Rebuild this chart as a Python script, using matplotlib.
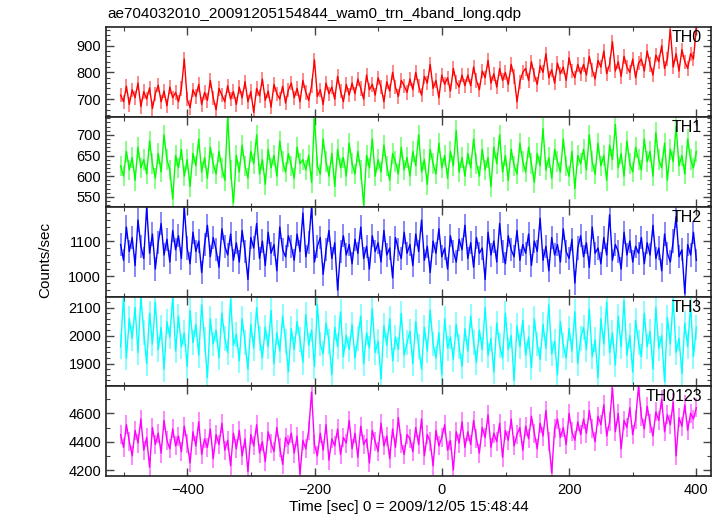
import numpy as np
import matplotlib.pyplot as plt
from matplotlib.ticker import MultipleLocator
from matplotlib.colors import to_rgb

plt.rcParams['font.family'] = ['Liberation Sans', 'DejaVu Sans']

# Light curve values (counts/sec), one list per band
t_start = -505
t_stop = 400

th0 = [715, 690, 748, 680, 735, 705, 760, 672, 728, 700, 742, 665, 720, 752, 690, 730, 675, 745, 705, 725,
       690, 740, 850, 700, 668, 735, 710, 755, 680, 725, 695, 770, 705, 660, 740, 715, 690, 750, 700, 728,
       680, 745, 705, 765, 690, 728, 650, 740, 712, 775, 695, 730, 670, 755, 720, 700, 748, 685, 735, 760,
       705, 740, 690, 770, 725, 695, 750, 847, 710, 735, 680, 760, 720, 745, 700, 785, 730, 690, 755, 715,
       760, 720, 775, 740, 700, 790, 735, 755, 715, 780, 745, 690, 765, 730, 800, 745, 710, 770, 750, 725,
       775, 735, 800, 750, 715, 785, 760, 830, 740, 770, 705, 790, 755, 780, 730, 815, 765, 745, 790, 750,
       790, 750, 820, 770, 735, 805, 780, 845, 760, 795, 745, 815, 770, 800, 755, 830, 785, 690, 765, 800,
       815, 770, 840, 790, 755, 825, 800, 870, 780, 810, 760, 835, 795, 820, 770, 855, 805, 780, 830, 795,
       830, 790, 860, 810, 775, 845, 820, 880, 795, 830, 915, 805, 840, 785, 860, 820, 800, 850, 780, 835,
       850, 805, 880, 830, 790, 865, 840, 900, 815, 850, 960, 820, 870, 805, 885, 840, 815, 870, 850, 969]

th1 = [625, 600, 660, 615, 645, 590, 670, 620, 640, 605, 685, 630, 595, 655, 610, 700, 640, 615, 545, 650,
       620, 665, 600, 640, 575, 655, 625, 690, 610, 645, 595, 670, 630, 605, 660, 620, 590, 744, 615, 535,
       650, 610, 675, 625, 595, 660, 630, 700, 605, 640, 580, 665, 620, 650, 600, 685, 635, 610, 655, 625,
       595, 670, 630, 640, 615, 650, 585, 744, 625, 605, 690, 635, 600, 655, 575, 665, 620, 645, 600, 680,
       630, 605, 660, 615, 530, 650, 620, 690, 600, 640, 610, 675, 625, 590, 655, 635, 605, 670, 615, 645,
       600, 660, 625, 700, 610, 640, 580, 665, 630, 605, 680, 620, 650, 595, 660, 625, 710, 610, 645, 600,
       655, 620, 690, 630, 600, 665, 615, 645, 575, 670, 630, 700, 610, 650, 590, 665, 625, 605, 680, 635,
       610, 670, 630, 585, 655, 625, 715, 615, 645, 595, 665, 635, 610, 690, 625, 600, 660, 570, 650, 630,
       665, 615, 700, 635, 605, 680, 625, 650, 590, 675, 640, 725, 620, 655, 600, 685, 630, 610, 670, 640,
       615, 690, 635, 660, 600, 705, 640, 620, 680, 590, 665, 635, 720, 625, 650, 605, 690, 640, 620, 660]

th2 = [1090, 1045, 1140, 1070, 1110, 1030, 1160, 1085, 1050, 1198, 1065, 1120, 1020, 1095, 1150, 1060, 1105, 1040, 1130, 1075,
       1115, 1050, 1198, 1080, 1035, 1125, 1070, 1100, 1010, 1090, 1145, 1055, 1110, 1075, 1025, 1135, 1085, 1060, 1120, 1045,
       1095, 1040, 1130, 1070, 990, 1110, 1080, 1150, 1050, 1100, 1030, 1125, 1065, 1090, 1015, 1140, 1075, 1055, 1115, 1085,
       1045, 1120, 1070, 1180, 1055, 1095, 1198, 1040, 1085, 1110, 1005, 1075, 1130, 1050, 1095, 960, 1070, 1115, 1060, 1090,
       1035, 1105, 1065, 1140, 1050, 1085, 1020, 1115, 1070, 1095, 1040, 1130, 1060, 1080, 995, 1110, 1075, 1050, 1125, 1065,
       1090, 1030, 1120, 1070, 1160, 1045, 1085, 1010, 1100, 1065, 1135, 1055, 1080, 1020, 1115, 1070, 1040, 1105, 1075, 1145,
       1050, 1095, 1025, 1110, 1065, 1080, 990, 1125, 1060, 1100, 1040, 1150, 1070, 1035, 1115, 1075, 1055, 1130, 1045, 1090,
       1065, 1120, 1030, 1100, 1070, 1165, 1045, 1085, 1015, 1110, 1060, 1090, 1040, 1135, 1070, 1050, 1105, 980, 1080, 1115,
       1055, 1095, 1025, 1140, 1065, 1080, 1035, 1110, 1060, 1175, 1045, 1090, 1070, 1020, 1125, 1060, 1100, 1040, 1085, 1065,
       1110, 1035, 1095, 1060, 1145, 1050, 1080, 1015, 1120, 1065, 1040, 1100, 1170, 1055, 1075, 950, 1090, 1060, 1125, 1045]

th3 = [1960, 2139, 1920, 2060, 1990, 2100, 1940, 2139, 2010, 1900, 2080, 1970, 2120, 1950, 2030, 1880, 2050, 1995, 2139, 1945,
       2070, 1960, 2010, 1890, 2090, 1975, 2040, 1930, 2110, 1985, 1850, 2060, 1970, 2020, 1920, 2080, 1990, 1940, 2130, 1965,
       2005, 1910, 2060, 1975, 1880, 2040, 1955, 2100, 1990, 1920, 2030, 1960, 2090, 1900, 2010, 1945, 2070, 1980, 1870, 2025,
       1950, 2050, 1985, 1905, 2075, 1965, 2020, 1890, 2110, 1970, 1935, 2045, 1980, 1860, 2030, 1960, 2085, 1925, 2000, 1950,
       2040, 1920, 1990, 2070, 1900, 2010, 1955, 2095, 1940, 1980, 1845, 2035, 1965, 2060, 1910, 1995, 1950, 2080, 1930, 1975,
       2015, 1900, 2050, 1960, 1880, 2030, 1945, 2090, 1970, 1920, 2010, 1860, 2060, 1955, 1995, 1915, 2040, 1960, 1890, 2025,
       1945, 2070, 1975, 1905, 2020, 1950, 2100, 1930, 1990, 1870, 2045, 1965, 1920, 2080, 1950, 2000, 1840, 2035, 1960, 2055,
       1930, 1995, 1885, 2060, 1970, 1915, 2040, 1955, 2110, 1935, 1980, 1860, 2050, 1965, 1920, 2025, 1945, 2085, 1900, 1990,
       2030, 1950, 2095, 1925, 1985, 1850, 2060, 1970, 2120, 1940, 2010, 1895, 2070, 1960, 2125, 1930, 2000, 1870, 2055, 1975,
       1925, 2080, 1960, 2015, 1880, 2100, 1955, 2000, 1835, 2065, 1970, 2130, 1940, 1990, 1865, 2045, 1960, 2110, 1925, 2030]

th0123 = [4450, 4360, 4520, 4400, 4300, 4480, 4390, 4560, 4340, 4430, 4220, 4500, 4380, 4460, 4320, 4550, 4410, 4350, 4490, 4370,
          4440, 4330, 4510, 4390, 4250, 4470, 4370, 4540, 4310, 4420, 4360, 4490, 4280, 4450, 4380, 4530, 4340, 4410, 4230, 4460,
          4350, 4480, 4300, 4420, 4190, 4450, 4370, 4520, 4320, 4400, 4260, 4470, 4390, 4330, 4500, 4360, 4240, 4430, 4380, 4460,
          4320, 4440, 4170, 4410, 4350, 4480, 4750, 4380, 4300, 4460, 4340, 4520, 4270, 4420, 4370, 4490, 4310, 4430, 4390, 4550,
          4350, 4460, 4290, 4510, 4380, 4420, 4250, 4480, 4400, 4330, 4530, 4370, 4440, 4280, 4490, 4360, 4570, 4390, 4310, 4450,
          4420, 4330, 4500, 4380, 4560, 4300, 4450, 4400, 4230, 4480, 4370, 4430, 4520, 4340, 4410, 4200, 4470, 4390, 4540, 4360,
          4470, 4380, 4550, 4420, 4320, 4500, 4430, 4590, 4360, 4460, 4400, 4530, 4290, 4480, 4410, 4560, 4370, 4450, 4500, 4340,
          4510, 4420, 4580, 4460, 4350, 4530, 4440, 4620, 4400, 4180, 4490, 4560, 4430, 4500, 4380, 4600, 4470, 4410, 4540, 4450,
          4560, 4460, 4620, 4490, 4400, 4580, 4520, 4660, 4440, 4540, 4780, 4470, 4600, 4350, 4550, 4500, 4640, 4450, 4560, 4790,
          4580, 4490, 4650, 4530, 4440, 4610, 4550, 4700, 4470, 4590, 4520, 4680, 4300, 4570, 4510, 4660, 4480, 4600, 4560, 4640]

bands = ['TH0', 'TH1', 'TH2', 'TH3', 'TH0123']
series = [th0, th1, th2, th3, th0123]
errs = [27, 25, 33, 44, 67]   # ~Poisson errors of the 1 s bins
colors = ['#ff0000', '#00ff00', '#0000ff', '#00ffff', '#ff00ff']
ylims = [(634, 969), (526, 744), (941, 1198), (1820, 2139), (4158, 4793)]
majors = [100, 50, 100, 100, 200]
minors = [20, 10, 20, 20, 100]

W, H = 724, 516
fig = plt.figure(figsize=(W / 100, H / 100), dpi=100)

left = 106 / W
width = (711 - 106) / W
edges = [27.3, 116.7, 206.7, 296.7, 386, 476]

axes = []
for k in range(5):
    bot = 1 - edges[k + 1] / H
    h = (edges[k + 1] - edges[k]) / H
    ax = fig.add_axes([left, bot, width, h], sharex=axes[0] if axes else None)
    axes.append(ax)

    v = np.array(series[k], dtype=float)
    t = np.linspace(t_start, t_stop, len(v))
    light = tuple(0.55 * c + 0.45 for c in to_rgb(colors[k]))
    ax.errorbar(t, v, yerr=errs[k], fmt='none', ecolor=light, elinewidth=1.2, capsize=0, zorder=1)
    ax.plot(t, v, color=colors[k], lw=1.0, zorder=2)

    ax.set_ylim(*ylims[k])
    ax.yaxis.set_major_locator(MultipleLocator(majors[k]))
    ax.yaxis.set_minor_locator(MultipleLocator(minors[k]))
    ax.xaxis.set_major_locator(MultipleLocator(200))
    ax.xaxis.set_minor_locator(MultipleLocator(100))
    ax.tick_params(which='both', direction='in', top=True, right=True, color='#444444', labelsize=10.5)
    ax.tick_params(which='major', length=6, width=1)
    ax.tick_params(which='minor', length=3, width=0.8)
    for s in ax.spines.values():
        s.set_linewidth(1.2)
        s.set_color('#222222')
    ax.text(0.985, 0.965, bands[k], transform=ax.transAxes, ha='right', va='top', fontsize=11.5)
    if k < 4:
        ax.tick_params(labelbottom=False)

axes[0].set_xlim(-528, 423)
axes[-1].tick_params(axis='x', pad=5)
axes[-1].set_xlabel('Time [sec] 0 = 2009/12/05 15:48:44', fontsize=11, labelpad=2)

fig.text(45 / W, 1 - 260 / H, 'Counts/sec', rotation=90, ha='center', va='center', fontsize=11)
fig.text(107 / W, 1 - 14 / H, 'ae704032010_20091205154844_wam0_trn_4band_long.qdp',
         ha='left', va='center', fontsize=11)

fig.savefig('out.png', dpi=100)
